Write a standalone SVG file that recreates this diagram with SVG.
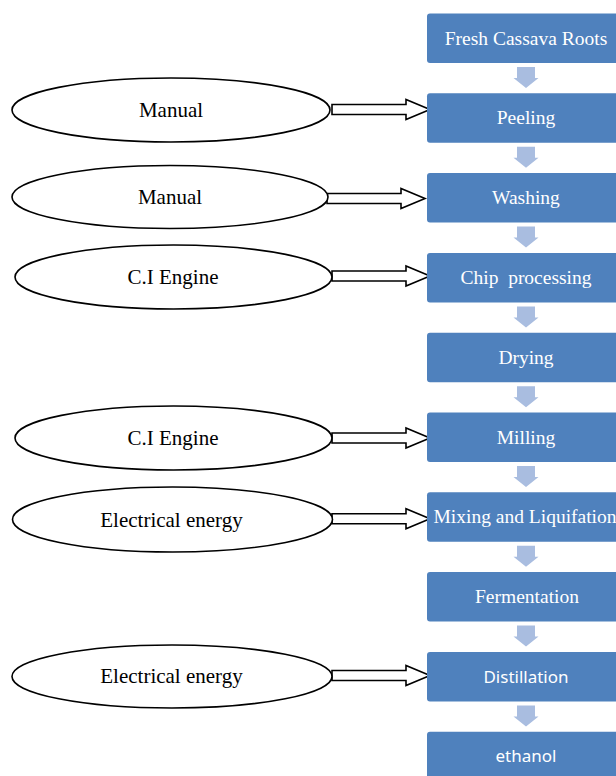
<svg xmlns="http://www.w3.org/2000/svg" width="616" height="776" viewBox="0 0 616 776">
<defs>
<style>
.box{fill:#4f81bd;}
.bt{font-family:"Liberation Serif","Times New Roman",serif;font-size:19.5px;fill:#ffffff;text-anchor:middle;}
.bs{font-family:"Noto Sans","Open Sans",sans-serif;font-size:17px;fill:#ffffff;text-anchor:middle;}
.ell{fill:#ffffff;stroke:#000000;stroke-width:1.6;}
.et{font-family:"Liberation Serif","Times New Roman",serif;font-size:21px;fill:#000000;text-anchor:middle;}
.ba{fill:#ffffff;stroke:#000000;stroke-width:1.6;stroke-linejoin:miter;}
.da{fill:#a9bde0;}
</style>
<path id="down" d="M-9,0 H9 V11 H12.5 L0,21 L-12.5,11 H-9 Z"/>
<path id="blk" d="M0,-5 H74 V-10 L98,0 L74,10 V5 H0 Z"/>
</defs>
<g id="connectors">
<use href="#down" class="da" x="526" y="67"/>
<use href="#down" class="da" x="526" y="146.8"/>
<use href="#down" class="da" x="526" y="226.6"/>
<use href="#down" class="da" x="526" y="306.4"/>
<use href="#down" class="da" x="526" y="386.2"/>
<use href="#down" class="da" x="526" y="466"/>
<use href="#down" class="da" x="526" y="545.8"/>
<use href="#down" class="da" x="526" y="625.6"/>
<use href="#down" class="da" x="526" y="705.4"/>
<use href="#blk" class="ba" x="332" y="109.5"/>
<use href="#blk" class="ba" x="327" y="198.5"/>
<use href="#blk" class="ba" x="332" y="276"/>
<use href="#blk" class="ba" x="332" y="438"/>
<use href="#blk" class="ba" x="332" y="518.7"/>
<use href="#blk" class="ba" x="332" y="675.5"/>
</g>
<g id="e1"><ellipse class="ell" cx="171" cy="110" rx="159" ry="32"/><text class="et" x="171" y="117">Manual</text></g>
<g id="e2"><ellipse class="ell" cx="170" cy="197" rx="158" ry="31.5"/><text class="et" x="170" y="204">Manual</text></g>
<g id="e3"><ellipse class="ell" cx="173.5" cy="277" rx="158.5" ry="32"/><text class="et" x="173" y="284">C.I Engine</text></g>
<g id="e4"><ellipse class="ell" cx="173.5" cy="438" rx="158.5" ry="32"/><text class="et" x="173" y="445">C.I Engine</text></g>
<g id="e5"><ellipse class="ell" cx="172.5" cy="519.5" rx="160" ry="32.5"/><text class="et" x="171.5" y="527">Electrical energy</text></g>
<g id="e6"><ellipse class="ell" cx="172" cy="676.5" rx="160" ry="31.5"/><text class="et" x="171.5" y="683">Electrical energy</text></g>
<g id="n1"><rect class="box" x="427" y="13.5" width="200" height="49.5" rx="3"/><text class="bt" x="526" y="44.5">Fresh Cassava Roots</text></g>
<g id="n2"><rect class="box" x="427" y="93.3" width="200" height="49.5" rx="3"/><text class="bt" x="526" y="124.3">Peeling</text></g>
<g id="n3"><rect class="box" x="427" y="173.1" width="200" height="49.5" rx="3"/><text class="bt" x="526" y="204.1">Washing</text></g>
<g id="n4"><rect class="box" x="427" y="252.9" width="200" height="49.5" rx="3"/><text class="bt" x="526" y="283.9" xml:space="preserve">Chip  processing</text></g>
<g id="n5"><rect class="box" x="427" y="332.7" width="200" height="49.5" rx="3"/><text class="bt" x="526" y="363.7">Drying</text></g>
<g id="n6"><rect class="box" x="427" y="412.5" width="200" height="49.5" rx="3"/><text class="bt" x="526" y="443.5">Milling</text></g>
<g id="n7"><rect class="box" x="427" y="492.3" width="200" height="49.5" rx="3"/><text class="bt" x="525" y="523.3">Mixing and Liquifation</text></g>
<g id="n8"><rect class="box" x="427" y="572.1" width="200" height="49.5" rx="3"/><text class="bt" x="527" y="603.1">Fermentation</text></g>
<g id="n9"><rect class="box" x="427" y="651.9" width="200" height="49.5" rx="3"/><text class="bs" x="526" y="682.5">Distillation</text></g>
<g id="n10"><rect class="box" x="427" y="731.7" width="200" height="49.5" rx="3"/><text class="bs" x="526" y="762.3">ethanol</text></g>
</svg>
